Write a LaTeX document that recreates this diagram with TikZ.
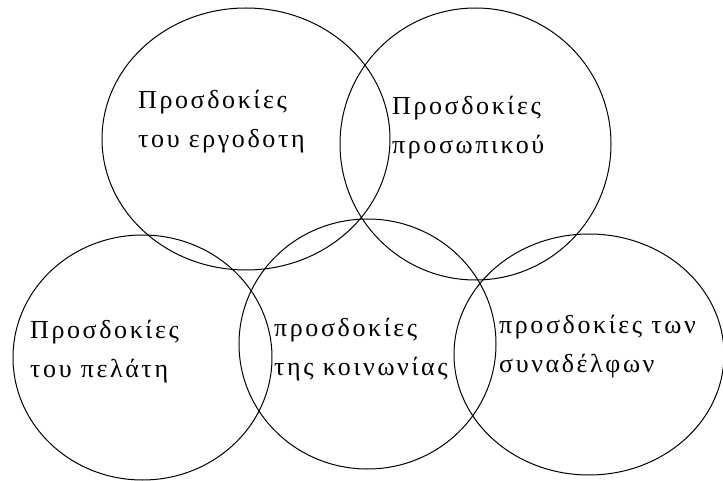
\documentclass[tikz,border=0pt]{standalone}
\usepackage{fontspec}
\setmainfont{Liberation Serif}[LetterSpace=10]
\usetikzlibrary{shapes.geometric}
\tikzset{
  ring/.style={ellipse, draw=black, line width=1pt, inner sep=0pt, outer sep=0pt},
  label/.style={anchor=base west, align=left, inner sep=0pt, font=\fontsize{26}{39}\selectfont}
}
\begin{document}
\begin{tikzpicture}[x=1pt,y=-1pt]
\useasboundingbox (0,0) rectangle (723,481);
\node[ring, minimum width=288pt, minimum height=262pt] (c1) at (246,139) {};
\node[ring, minimum width=271pt, minimum height=272pt] (c2) at (475.5,144) {};
\node[ring, minimum width=259pt, minimum height=245pt] (c3) at (142.5,357.5) {};
\node[ring, minimum width=257pt, minimum height=250pt] (c4) at (367.5,344) {};
\node[ring, minimum width=270pt, minimum height=241pt] (c5) at (589,354.5) {};
\node[label] (t1) at (138,148) {Προσδοκίες\\του εργοδοτη};
\node[label] (t2) at (392,154) {Προσδοκίες\\προσωπικού};
\node[label] (t3) at (30,377) {Προσδοκίες\\του πελάτη};
\node[label] (t4) at (274,375) {προσδοκίες\\της κοινωνίας};
\node[label] (t5) at (499,372) {προσδοκίες των\\συναδέλφων};
\end{tikzpicture}
\end{document}
